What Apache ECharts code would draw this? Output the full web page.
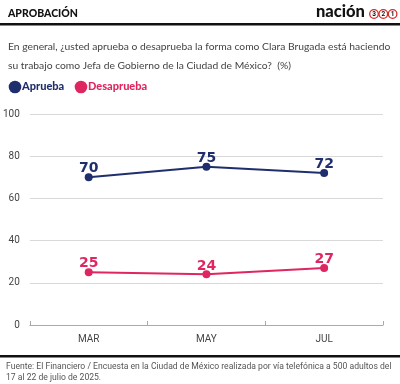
<!DOCTYPE html>
<html><head><meta charset="utf-8">
<script src="https://cdn.jsdelivr.net/npm/echarts@6/dist/echarts.min.js"></script>
<style>html,body{margin:0;padding:0;background:#fff}#c{width:400px;height:384px}</style>
</head><body><div id="c"></div>
<script>
const categories = ['MAR', 'MAY', 'JUL'];
const aprueba = [70, 75, 72];
const desaprueba = [25, 24, 27];
const yTicks = [0, 20, 40, 60, 80, 100];
const NAVY = '#1f2f6d', PINK = '#df2660';
const chart = echarts.init(document.getElementById('c'));
const lbl = (c) => ({show: true, position: 'top', distance: -2.5, color: c, fontFamily: 'DejaVu Sans', fontWeight: 'bold', fontSize: 14});
chart.setOption({
  animation: false,
  grid: {left: 29, right: 17, top: 114, bottom: 59},
  xAxis: {type: 'category', data: categories, boundaryGap: true,
    axisLine: {lineStyle: {color: '#aaa'}}, axisTick: {show: true, length: 4, inside: true, lineStyle: {color: '#aaa'}},
    axisLabel: {color: '#444', fontSize: 10, fontFamily: 'Roboto', margin: 9}},
  yAxis: {type: 'value', min: yTicks[0], max: yTicks[yTicks.length-1], interval: 20,
    axisLine: {show: false}, axisTick: {show: false},
    splitLine: {lineStyle: {color: '#d9d9d9'}},
    axisLabel: {color: '#444', fontSize: 10, fontFamily: 'Roboto', margin: 10}},
  series: [
    {type: 'line', data: aprueba, color: NAVY, symbol: 'circle', symbolSize: 8, lineStyle: {width: 2}, label: lbl(NAVY)},
    {type: 'line', data: desaprueba, color: PINK, symbol: 'circle', symbolSize: 8, lineStyle: {width: 2}, label: lbl(PINK)}
  ],
  graphic: [
    {type: 'text', left: 8, top: 8, style: {text: 'APROBACIÓN', fontFamily: 'Lato', fontWeight: 900, fontSize: 10.5, fill: '#111'}},
    {type: 'text', left: 316, top: 3, style: {text: 'nación', fontFamily: 'Lato', fontWeight: 900, fontSize: 16.5, fill: '#111'}},
    {type: 'circle', shape: {cx: 374, cy: 14, r: 4.3}, style: {fill: '#fff', stroke: '#d62b2b', lineWidth: 1.3}},
    {type: 'circle', shape: {cx: 383.3, cy: 14, r: 4.3}, style: {fill: '#fff', stroke: '#d62b2b', lineWidth: 1.3}},
    {type: 'circle', shape: {cx: 392.6, cy: 14, r: 4.3}, style: {fill: '#fff', stroke: '#d62b2b', lineWidth: 1.3}},
    {type: 'text', x: 374, y: 14, style: {text: '3', align: 'center', verticalAlign: 'middle', fontSize: 6.5, fontWeight: 'bold', fontFamily: 'Roboto', fill: '#111'}},
    {type: 'text', x: 383.3, y: 14, style: {text: '2', align: 'center', verticalAlign: 'middle', fontSize: 6.5, fontWeight: 'bold', fontFamily: 'Roboto', fill: '#111'}},
    {type: 'text', x: 392.6, y: 14, style: {text: '1', align: 'center', verticalAlign: 'middle', fontSize: 6.5, fontWeight: 'bold', fontFamily: 'Roboto', fill: '#111'}},
    {type: 'rect', shape: {x: 0, y: 23, width: 400, height: 2.5}, style: {fill: '#111'}},
    {type: 'text', left: 8, top: 37, style: {text: 'En general, ¿usted aprueba o desaprueba la forma como Clara Brugada está haciendo\nsu trabajo como Jefa de Gobierno de la Ciudad de México?  (%)', fontFamily: 'Lato', fontSize: 10.3, lineHeight: 19, fill: '#444'}},
    {type: 'circle', shape: {cx: 15, cy: 87, r: 6.3}, style: {fill: NAVY}},
    {type: 'text', left: 22, top: 81, style: {text: 'Aprueba', fontFamily: 'Lato', fontWeight: 900, fontSize: 11, fill: NAVY}},
    {type: 'circle', shape: {cx: 81, cy: 87, r: 6.3}, style: {fill: PINK}},
    {type: 'text', left: 88, top: 81, style: {text: 'Desaprueba', fontFamily: 'Lato', fontWeight: 900, fontSize: 11, fill: PINK}},
    {type: 'rect', shape: {x: 0, y: 355, width: 400, height: 2.5}, style: {fill: '#111'}},
    {type: 'text', left: 6, top: 361, style: {text: 'Fuente: El Financiero / Encuesta en la Ciudad de México realizada por vía telefónica a 500 adultos del\n17 al 22 de julio de 2025.', fontFamily: 'Roboto', fontSize: 8.6, lineHeight: 11, fill: '#555'}}
  ]
});
</script></body></html>
